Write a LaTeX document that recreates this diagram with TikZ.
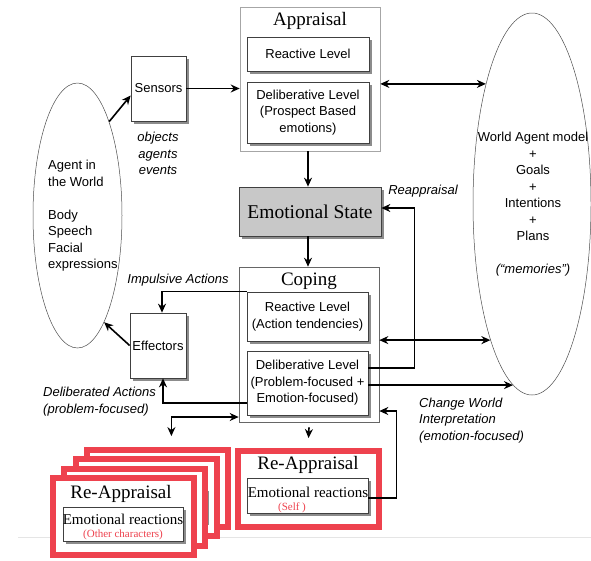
\documentclass[tikz,border=0pt]{standalone}
\usepackage{fontspec}
\setmainfont{Liberation Sans}
\newfontfamily\titlefont{Liberation Serif}
\usepackage{tikz}
\usetikzlibrary{arrows.meta,shapes.geometric,shadows}

\definecolor{apred}{RGB}{238,66,78}
\definecolor{stategray}{RGB}{200,200,200}

\begin{document}
\begin{tikzpicture}[
  x=1pt, y=-1pt,
  >={Stealth[length=9pt,width=8pt]},
  every node/.style={font=\fontsize{13}{16.5}\selectfont, inner sep=0pt},
  levelbox/.style={rectangle, draw=black!75, fill=white, line width=0.7pt,
    align=center,
    drop shadow={shadow xshift=3pt, shadow yshift=-3pt, fill=black!45, opacity=1}},
  stagebox/.style={rectangle, draw=black!60, line width=0.6pt},
  title/.style={font=\titlefont\fontsize{19}{22}\selectfont},
  reaction/.style={font=\titlefont\fontsize{15}{17}\selectfont},
  who/.style={font=\titlefont\fontsize{11}{12}\selectfont, text=apred},
  redbox/.style={rectangle, draw=apred, fill=white, line width=6pt,
    minimum width=141pt, minimum height=77pt},
  blob/.style={ellipse, draw=black!70, line width=0.5pt},
  note/.style={font=\fontsize{13}{16.5}\selectfont\itshape, align=left},
  arr/.style={->, line width=1.6pt},
  arrs/.style={<->, line width=1.6pt},
]
\useasboundingbox (0,0) rectangle (591,560);

% faint rule under the diagram
\draw[black!10, line width=0.8pt] (18,537) -- (591,537);

% Agent in the world / memories
\node[blob, minimum width=89pt, minimum height=265pt] (world) at (77.5,215.5) {};
\node[align=left, anchor=west] (worldtext) at (48,216)
  {Agent in\\the World\\[16.5pt]Body\\Speech\\Facial\\expressions};

\node[blob, minimum width=118pt, minimum height=382pt] (memory) at (532,204) {};
\node[align=center] (memtext) at (533,204.5)
  {World Agent model\\+\\Goals\\+\\Intentions\\+\\Plans\\[16.5pt]{\itshape (“memories”)}};

% Sensors and effectors
\node[levelbox, minimum width=55pt, minimum height=65pt] (sensors) at (158.5,88.5) {Sensors};
\node[levelbox, minimum width=56pt, minimum height=65pt] (effectors) at (158,345.5) {Effectors};
\node[note, align=center] (percepts) at (158,153.5) {objects\\agents\\events};

% Appraisal
\node[stagebox, draw=black!35, minimum width=140pt, minimum height=144pt] (appraisal) at (310,79) {};
\node[title] (aptitle) at (310,21) {Appraisal};
\node[levelbox, minimum width=122pt, minimum height=34pt] (apreact) at (308,54) {Reactive Level};
\node[levelbox, minimum width=122pt, minimum height=61pt] (apdelib) at (308,112.5)
  {Deliberative Level\\(Prospect Based\\emotions)};

% Emotional state
\node[levelbox, fill=stategray, minimum width=142pt, minimum height=49pt,
  font=\titlefont\fontsize{19.5}{22}\selectfont] (emotion) at (310,211.5) {Emotional State};

% Coping
\node[stagebox, minimum width=140pt, minimum height=155pt] (coping) at (309,344.5) {};
\node[title] (cptitle) at (309,281) {Coping};
\node[levelbox, minimum width=121pt, minimum height=49pt] (cpreact) at (307.5,316.5)
  {Reactive Level\\(Action tendencies)};
\node[levelbox, minimum width=121pt, minimum height=64pt] (cpdelib) at (307.5,383)
  {Deliberative Level\\(Problem-focused +\\Emotion-focused)};

% Re-appraisal of the self
\node[redbox, minimum width=141pt, minimum height=76pt] (self) at (308.5,489) {};
\node[title] (selftitle) at (308,465) {Re-Appraisal};
\node[levelbox, minimum width=121pt, minimum height=35pt] (selfin) at (307.5,495.5) {};
\node[reaction] (selfemo) at (308,492.5) {Emotional reactions};
\node[who] (selfwho) at (292,507.5) {(Self )};

% Re-appraisal of the other characters (stacked)
\foreach \i in {3,2,1} {
  \node[redbox] (oth\i) at (123.5+11.3*\i, 516.5-9.3*\i) {};
  \node[levelbox, minimum width=120pt, minimum height=34pt] (othin\i) at (123+11.3*\i, 524-9.3*\i) {};
}
\node[redbox] (oth0) at (123.5,516.5) {};
\node[title] (othtitle) at (121,494) {Re-Appraisal};
\node[levelbox, minimum width=120pt, minimum height=34pt] (othin0) at (123,524) {};
\node[reaction] (othemo) at (123,519.5) {Emotional reactions};
\node[who] (othwho) at (123,534.5) {(Other characters)};

% Arrows
\draw[arr] (world.north east) -- ([yshift=-7pt]sensors.west);
\draw[arr] (sensors.east) -- (sensors.east -| appraisal.west);
\draw[arrs] (appraisal.east |- memory.111) -- (memory.111);
\draw[arr] (appraisal.south -| apdelib) -- (emotion.north -| apdelib);
\draw[arr] (emotion.south -| apdelib) -- (coping.north -| apdelib);
\draw[arr] ([yshift=15pt]cpdelib.east) -- ++(46,0) |- ([yshift=3.5pt]emotion.east);
\draw[arrs] (coping.east |- memory.253) -- (memory.253);
\draw[arr] (cpdelib.east |- memory.264) -- (memory.264);
\draw[arr] (cpreact.north west) -| ([xshift=4pt]effectors.north);
\draw[arr] ([yshift=-20pt]cpdelib.west) -| ([xshift=5pt]effectors.south);
\draw[arr] (effectors.west) -- (world.284);
\draw[arrs] ([yshift=-72.5pt]coping.west) -| ([xshift=14pt,yshift=11pt]oth3.north);
\draw[arr] ([yshift=-5pt]coping.south) -- ([yshift=10pt]self.north);
\draw[arr] ([yshift=-2.5pt]selfin.east) -- ++(28,0) |- ([yshift=-66.5pt]coping.east);

% Arrow labels
\node[note] (reapp) at (423,191) {Reappraisal};
\node[note] (impulse) at (178,280) {Impulsive Actions};
\node[note, anchor=west] (delib) at (43,401.5) {Deliberated Actions\\(problem-focused)};
\node[note, anchor=west] (change) at (419,420.5) {Change World\\Interpretation\\(emotion-focused)};

\end{tikzpicture}
\end{document}
